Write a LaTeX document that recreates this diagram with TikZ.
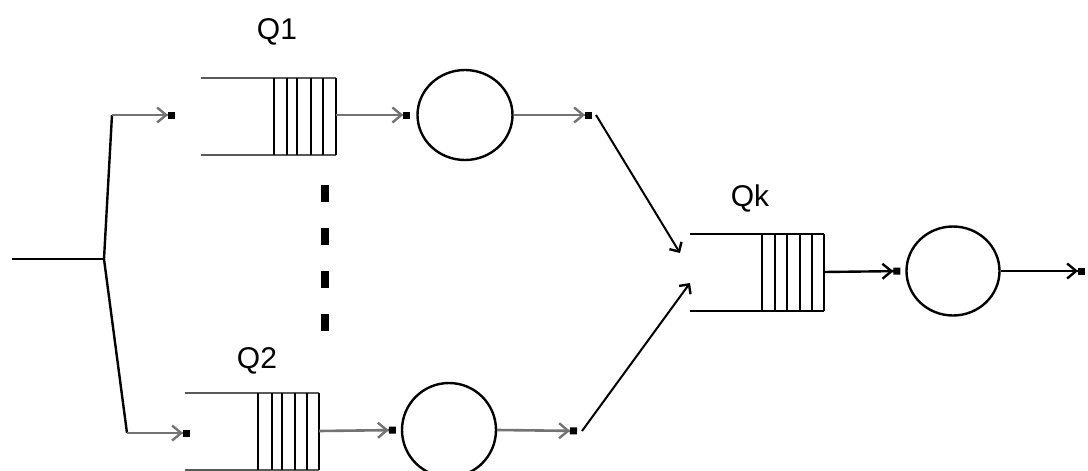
\documentclass[tikz,border=0pt]{standalone}
\usepackage{fontspec}
\setmainfont{Liberation Sans}
\usetikzlibrary{arrows.meta,shapes.geometric}
\begin{document}
\begin{tikzpicture}[x=1pt,y=-1pt,
  wire/.style={line width=2.4pt,black},
  gwire/.style={line width=2.6pt,black!55},
  feather/.style={-{Straight Barb[length=9pt,width=15pt,line width=2.4pt]Square[black,length=7pt,width=7pt]}},
  corner/.style={-{Straight Barb[angle=90:10pt,line width=2.4pt]},line width=2pt},
  server/.style={ellipse,draw,line width=2.4pt,inner sep=0pt},
  qline/.style={line width=2.6pt},
  qlabel/.style={font=\fontsize{30}{30}\selectfont,inner sep=0pt}]
\useasboundingbox (0,0) rectangle (1088,471);

% queue 1
\draw[qline,black!65] (201,78) -- (336,78) (201,155) -- (336,155);
\foreach \x in {274,287,297,311,323,336} \draw[qline] (\x,78) -- (\x,155);
\node[qlabel] (q1lab) at (277,32) {Q1};
\coordinate (q1in) at (175,115);
\coordinate (q1out) at (336,115);

% queue 2
\draw[qline,black!65] (185,393) -- (319,393) (185,470) -- (319,470);
\foreach \x in {258,272,282,295,307,319} \draw[qline] (\x,393) -- (\x,470);
\node[qlabel] (q2lab) at (257,361) {Q2};
\coordinate (q2in) at (190,433);
\coordinate (q2out) at (319,431);

% queue k
\draw[qline] (690,234) -- (824,234) (690,311) -- (824,311);
\foreach \x in {762,775,787,800,812,824} \draw[qline] (\x,234) -- (\x,311);
\node[qlabel] (qklab) at (750,198) {Qk};
\coordinate (qkin1) at (680,253);
\coordinate (qkin2) at (690,283);
\coordinate (qkout) at (824,272);

% servers
\node[server,minimum width=95pt,minimum height=90pt] (s1) at (465,115) {};
\node[server,minimum width=94pt,minimum height=94pt] (s2) at (449,430) {};
\node[server,minimum width=93pt,minimum height=89pt] (sk) at (953,271) {};

% dotted separation between the parallel queues
\foreach \y in {185,228,271,314}
  \fill (321,\y) rectangle (329,\y+17);

% arrival split
\coordinate (src) at (12,259);
\coordinate (split) at (104,259);
\coordinate (up) at (112,115);
\coordinate (down) at (127,433);
\draw[wire] (src) -- (split);
\draw[wire] (split) -- (up);
\draw[wire] (split) -- (down);
\draw[gwire,feather] (up) -- (q1in);
\draw[gwire,feather] (down) -- (q2in);

% queue to server
\draw[gwire,feather,shorten >=6pt] (q1out) -- (s1.west);
\draw[gwire,feather,shorten >=5pt] (q2out) -- (s2.west);
\draw[wire,feather,shorten >=5pt] (qkout) -- (sk.west);

% server outputs
\coordinate (j1) at (596,115);
\coordinate (j2) at (582,431);
\coordinate (exit) at (1088,271);
\draw[gwire,feather,shorten >=4pt] (s1.east) -- (j1);
\draw[gwire,feather,shorten >=5pt] (s2.east) -- (j2);
\draw[wire,feather,shorten >=3pt] (sk.east) -- (exit);

% merge into queue k
\draw[corner] (j1) -- (qkin1);
\draw[corner] (j2) -- (qkin2);
\end{tikzpicture}
\end{document}
